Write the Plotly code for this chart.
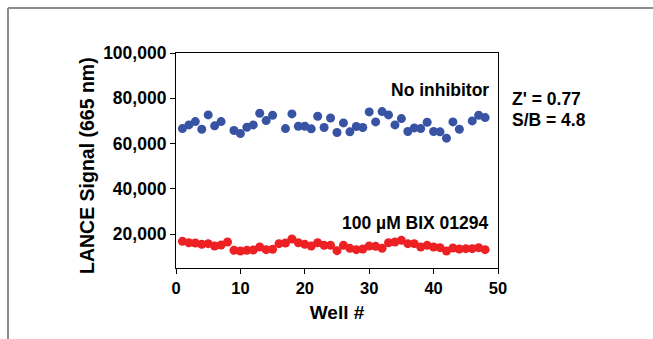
import plotly.graph_objects as go

wells = list(range(1, 49))

no_inhibitor = [66600, 68240, 69700, 66300, 72650, 67800, 69700, None,
                65740, 64400, 67200, 68240, 73400, 70150, 72500, None,
                66600, 73100, 67650, 67650, 66500, 72060, 67060, 71300,
                64860, 69100, 65150, 67500, 67060, 73970, 69560, 74120,
                72650, 68240, 71030, 65300, 66900, 66600, 69400, 65300,
                65150, 62360, 69560, 66300, None, 70000, 72500, 71470]

bix = [16770, 16180, 16040, 15450, 15740, 14710, 15150, 16480,
       12810, 12510, 12810, 12950, 14270, 13100, 13250, 15740,
       16040, 17800, 16180, 15450, 14710, 16180, 15010, 15010,
       12650, 15010, 13690, 13100, 13400, 14710, 14570, 13690,
       16180, 16480, 17210, 15740, 15740, 14270, 15010, 14270,
       13980, 12510, 13830, 13400, 13540, 13540, 13980, 13100]

x_ticks = [0, 10, 20, 30, 40, 50]
y_ticks = [20000, 40000, 60000, 80000, 100000]

FONT = "Liberation Sans, Arial, sans-serif"
W, H = 653, 339
L, R, T, B = 176, 155, 53, 71
pw, ph = W - L - R, H - T - B


def px(xp):
    return (xp - L) / pw


def py(yp):
    return (H - B - yp) / ph


fig = go.Figure()
fig.add_trace(go.Scatter(x=wells, y=no_inhibitor, mode="markers",
                         marker=dict(color="#3853a4", size=9),
                         cliponaxis=False, showlegend=False))
fig.add_trace(go.Scatter(x=wells, y=bix, mode="markers",
                         marker=dict(color="#ed2024", size=9),
                         cliponaxis=False, showlegend=False))

axis_common = dict(showgrid=False, zeroline=False, showline=True,
                   linecolor="black", linewidth=1.2, mirror=True,
                   ticks="outside", ticklen=5, tickwidth=1.2, tickcolor="black")

fig.update_xaxes(range=[0, 50], tickvals=x_ticks,
                 tickfont=dict(family=FONT, size=16.5, color="black", weight="bold"),
                 title=dict(text="<b>Well #</b>", standoff=9,
                            font=dict(family=FONT, size=19, color="black")),
                 **axis_common)
fig.update_yaxes(range=[5000, 100000], tickvals=y_ticks, tickformat=",",
                 tickfont=dict(family=FONT, size=17.5, color="black", weight="bold"),
                 **axis_common)

ann_font = dict(family=FONT, size=17.5, color="black")
annotations = [
    dict(text="<b>No inhibitor</b>", x=px(491), y=py(90), xanchor="right"),
    dict(text="<b>100 µM BIX 01294</b>", x=px(491), y=py(223), xanchor="right"),
    dict(text="<b>Z' = 0.77</b>", x=px(510), y=py(99), xanchor="left"),
    dict(text="<b>S/B = 4.8</b>", x=px(510), y=py(120), xanchor="left"),
]
for a in annotations:
    fig.add_annotation(xref="paper", yref="paper", yanchor="middle",
                       showarrow=False, font=ann_font, **a)

# y-axis title
fig.add_annotation(xref="paper", yref="paper", x=px(87), y=py(166),
                   xanchor="center", yanchor="middle", textangle=-90,
                   showarrow=False, text="<b>LANCE Signal (665 nm)</b>",
                   font=dict(family=FONT, size=19.5, color="black"))

# outer grey frame (left and top edges)
frame = dict(type="line", xref="paper", yref="paper",
             line=dict(color="#8c8c8c", width=2))
fig.add_shape(x0=px(8), x1=px(8), y0=py(8), y1=py(345), **frame)
fig.add_shape(x0=px(8), x1=px(660), y0=py(8), y1=py(8), **frame)

fig.update_layout(width=W, height=H, margin=dict(l=L, r=R, t=T, b=B),
                  paper_bgcolor="white", plot_bgcolor="white")

fig.write_html("out.html")
